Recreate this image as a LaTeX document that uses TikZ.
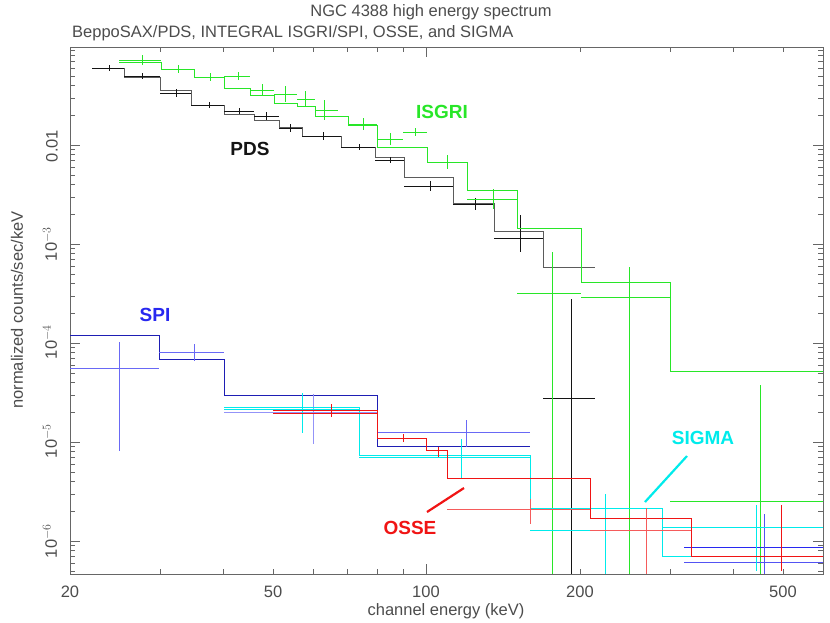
\documentclass[tikz,border=0pt]{standalone}
\usepackage{fontspec}
\setmainfont{Liberation Sans}
\definecolor{cg}{RGB}{40,230,40}
\definecolor{cb}{RGB}{40,40,240}
\definecolor{cc}{RGB}{0,235,235}
\definecolor{cr}{RGB}{240,20,20}
\definecolor{ck}{RGB}{20,20,20}
\newcommand{\bin}[7]{\draw[#1] (#2,#4)--(#3,#4) (#5,#6)--(#5,#7);}
\begin{document}
\begin{tikzpicture}[x=1pt,y=-1pt,
  dat/.style={line width=0.6pt},
  mdl/.style={line width=0.8pt},
  lab/.style={font=\bfseries\fontsize{19}{19}\selectfont},
  txt/.style={font=\fontsize{16.5}{16.5}\selectfont,text=black!70,inner sep=0pt}]
\useasboundingbox (0,0) rectangle (830,622);
% frame
\draw[black!60,line width=0.6pt] (70,47) rectangle (823,574);
% x ticks
\foreach \v in {30,40,50,60,70,80,90,200,300,400,500,600}{
  \pgfmathsetmacro\xx{70+510*log10(\v/20)}
  \draw[black!60] (\xx,574)--(\xx,569) (\xx,47)--(\xx,52);}
\foreach \v in {100}{
  \pgfmathsetmacro\xx{70+510*log10(\v/20)}
  \draw[black!60] (\xx,574)--(\xx,564) (\xx,47)--(\xx,57);}
% y ticks
\foreach \d in {-7,-6,-5,-4,-3,-2,-1}{
  \foreach \m in {1,...,9}{
    \pgfmathsetmacro\yy{541-99*(\d+6+log10(\m))}
    \pgfmathsetmacro\ok{(\yy>=47)&&(\yy<=574)?1:0}
    \ifnum\ok=1
      \ifnum\m=1
        \draw[black!60] (70,\yy)--(80,\yy) (823,\yy)--(813,\yy);
      \else
        \draw[black!60] (70,\yy)--(75,\yy) (823,\yy)--(818,\yy);
      \fi
    \fi}}
% tick labels
\node[txt] (x20) at (70,592) {20};
\node[txt] (x50) at (273,592) {50};
\node[txt] (x100) at (426,592) {100};
\node[txt] (x200) at (580,592) {200};
\node[txt] (x500) at (783,592) {500};
\node[txt,rotate=90] (y2) at (52,146) {0.01};
\node[txt,rotate=90] (y3) at (50,244) {10$^{-3}$};
\node[txt,rotate=90] (y4) at (50,342) {10$^{-4}$};
\node[txt,rotate=90] (y5) at (50,441) {10$^{-5}$};
\node[txt,rotate=90] (y6) at (50,541) {10$^{-6}$};
\node[txt] (xl) at (446,611) {channel energy (keV)};
\node[txt,rotate=90] (yl) at (17,310) {normalized counts/sec/keV};
\node[txt] (t1) at (431,12) {NGC 4388 high energy spectrum};
\node[txt,anchor=west] (t2) at (72,33) {BeppoSAX/PDS, INTEGRAL ISGRI/SPI, OSSE, and SIGMA};
% ---- PDS (black)
\draw[mdl,ck!70] (92,68)-|(124,77)-|(160,90)-|(191,105)-|(224,114)-|(254,120)-|(279,127)-|(302,136)-|(341,147)-|(375,157)-|(404,177)-|(453,203)-|(494,231)-|(543,267)--(595,267);
\bin{dat,ck}{92}{124}{68}{109}{65}{71}
\bin{dat,ck}{124}{160}{76}{142}{73}{79}
\bin{dat,ck}{160}{191}{93}{176}{89}{97}
\bin{dat,ck}{191}{224}{105}{209}{102}{108}
\bin{dat,ck}{224}{254}{111}{239}{108}{114}
\bin{dat,ck}{254}{279}{116}{266}{112}{120}
\bin{dat,ck}{279}{302}{128}{290}{124}{132}
\bin{dat,ck}{302}{341}{136}{323}{132}{140}
\bin{dat,ck}{341}{375}{147}{359}{144}{150}
\bin{dat,ck}{375}{404}{160}{390}{157}{163}
\bin{dat,ck}{404}{453}{186}{430}{181}{191}
\bin{dat,ck}{453}{494}{204}{475}{198}{210}
\bin{dat,ck}{494}{543}{238}{520}{215}{252}
\bin{dat,ck}{543}{595}{398}{571}{299}{574}
% ---- ISGRI (green)
\draw[mdl,cg] (119,62)-|(161,69)-|(194,77)-|(224,88)-|(250,95)-|(274,103)-|(297,106)-|(315,116)-|(348,125)-|(377,147)-|(427,162)-|(467,190)-|(517,228)-|(581,282)-|(670,371)--(823,371);
\bin{dat,cg}{119}{161}{60}{142}{55}{65}
\bin{dat,cg}{161}{194}{69}{178}{65}{73}
\bin{dat,cg}{194}{224}{77}{210}{73}{81}
\bin{dat,cg}{224}{250}{76}{238}{72}{80}
\bin{dat,cg}{250}{274}{90}{262}{84}{96}
\bin{dat,cg}{274}{297}{94}{285}{86}{102}
\bin{dat,cg}{297}{315}{99}{305}{91}{107}
\bin{dat,cg}{315}{338}{110}{324}{100}{120}
\bin{dat,cg}{348}{377}{124}{363}{118}{130}
\bin{dat,cg}{377}{403}{139}{390}{133}{145}
\bin{dat,cg}{403}{427}{132}{415}{128}{136}
\bin{dat,cg}{427}{467}{162}{447}{155}{169}
\bin{dat,cg}{467}{517}{199}{493}{189}{209}
\bin{dat,cg}{517}{581}{293}{552}{252}{574}
\bin{dat,cg}{581}{670}{297}{629}{267}{574}
\bin{dat,cg}{670}{823}{501}{760}{385}{574}
% ---- SPI (blue)
\draw[mdl,cb!75!black] (70,335)-|(159,359)-|(224,395)-|(377,446)--(530,446);
\draw[mdl,cb] (684,547)--(823,547);
\bin{dat,cb!70}{70}{159}{368}{119}{342}{451}
\bin{dat,cb!70}{159}{224}{352}{194}{344}{361}
\bin{dat,cb!50}{224}{377}{412}{313}{394}{444}
\bin{dat,cb!70}{377}{530}{432}{466}{420}{447}
\bin{dat,cb!80}{684}{823}{562}{764}{514}{574}
% ---- SIGMA (cyan)
\draw[mdl,cc] (224,407)-|(359,455)-|(530,508)-|(662,556)--(823,556);
\bin{dat,cc}{224}{359}{409}{302}{393}{433}
\bin{dat,cc}{359}{530}{457}{461}{439}{479}
\bin{dat,cc}{530}{662}{530}{605}{494}{574}
\bin{dat,cc}{662}{823}{527}{756}{505}{571}
% ---- OSSE (red)
\draw[mdl,cr] (273,410)-|(377,438)-|(426,450)-|(447,478)-|(590,518)-|(691,556)--(823,556);
\bin{dat,cr}{273}{377}{413}{331}{404}{417}
\bin{dat,cr}{377}{426}{438}{403}{434}{442}
\bin{dat,cr}{426}{447}{450}{438}{447}{457}
\bin{dat,cr!70}{447}{590}{509}{530}{499}{524}
\bin{dat,cr!70}{590}{691}{530}{646}{508}{574}
\draw[dat,cr] (781,505)--(781,571);
% labels
\node[lab,text=ck] (pds) at (250,149) {PDS};
\node[lab,text=cg] (isg) at (442,112) {ISGRI};
\node[lab,text=cb] (spi) at (155,315) {SPI};
\node[lab,text=cr] (osse) at (410,528) {OSSE};
\node[lab,text=cc] (sig) at (703,438) {SIGMA};
\coordinate (o1) at (427,512); \coordinate (o2) at (464,488);
\coordinate (s1) at (645,502); \coordinate (s2) at (687,456);
\draw[cr,line width=2.2pt] (o1)--(o2);
\draw[cc,line width=2.2pt] (s1)--(s2);
\end{tikzpicture}
\end{document}
